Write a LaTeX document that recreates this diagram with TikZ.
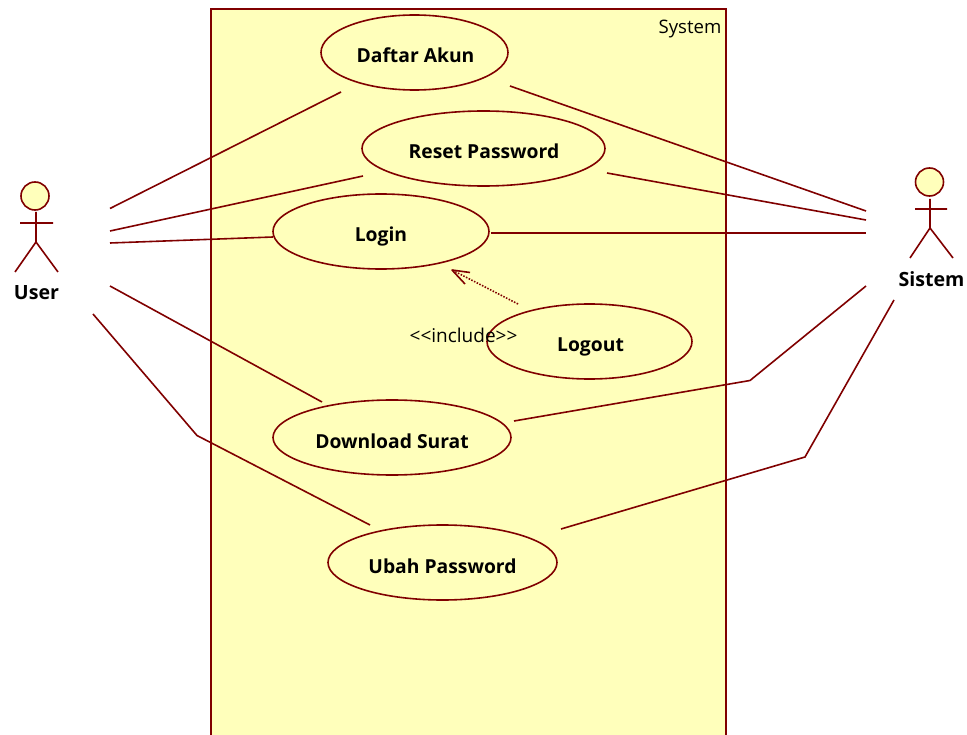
\documentclass[tikz,border=0pt]{standalone}
\usepackage{fontspec}
\setmainfont{Open Sans}
\usetikzlibrary{shapes.geometric}
\definecolor{umlline}{HTML}{800000}
\definecolor{umlfill}{HTML}{FFFFBB}
\tikzset{
  wire/.style={draw=umlline,line width=1.6pt,line join=round},
  usecase/.style={ellipse,draw=umlline,fill=umlfill,line width=1.6pt,inner sep=0pt,font=\fontsize{19.3}{19.3}\selectfont\bfseries,text=black,minimum height=75pt,text height=21pt,text depth=0pt},
  actorname/.style={font=\fontsize{19.6}{19.6}\selectfont\bfseries,text=black,inner sep=0pt},
  plain/.style={font=\fontsize{19}{19}\selectfont,text=black,inner sep=0pt},
  headball/.style={circle,draw=umlline,fill=umlfill,line width=1.6pt,minimum size=28pt,inner sep=0pt}
}
\begin{document}
\begin{tikzpicture}[x=1pt,y=-1pt]
\useasboundingbox (0,0) rectangle (967,735);
\fill[white] (0,0) rectangle (967,735);
\begin{scope}
\clip (0,0) rectangle (967,735);
\node[draw=umlline,fill=umlfill,line width=2pt,minimum width=515pt,minimum height=760pt,inner sep=0pt,anchor=north west] (sys) at (210.4,8) {};
\end{scope}
\node[plain,anchor=east,font=\fontsize{18.6}{18.6}\selectfont] (systitle) at (721.5,29) {System};
\node[usecase,minimum width=187pt] (daftar) at (414.5,52.5) {\hspace{2pt}Daftar Akun};
\node[usecase,minimum width=243pt] (reset) at (483.5,148.5) {\hspace{1pt}Reset Password};
\node[usecase,minimum width=216pt] (login) at (381,231.5) {Login};
\node[usecase,minimum width=205pt] (logout) at (589.5,341.5) {\hspace{2pt}Logout};
\node[usecase,minimum width=238pt] (download) at (392,437.5) {Download Surat};
\node[usecase,minimum width=229pt] (ubah) at (442.5,562.5) {Ubah Password};
\node[plain] (incl) at (463.5,335) {<{}<include>{}>};
% user actor
\node[headball] (uhead) at (35,196) {};
\coordinate (uneck) at (36,212); \coordinate (uhip) at (36,242);
\coordinate (uarml) at (20,223); \coordinate (uarmr) at (53,223);
\coordinate (ulegl) at (15,272); \coordinate (ulegr) at (58,272);
\draw[wire] (uneck) -- (uhip) (uarml) -- (uarmr) (ulegl) -- (uhip) -- (ulegr);
\node[actorname] (user) at (36.5,292.5) {User};
% sistem actor
\node[headball] (shead) at (929.5,182) {};
\coordinate (sneck) at (930,199); \coordinate (ship) at (930,228);
\coordinate (sarml) at (915,209); \coordinate (sarmr) at (947,209);
\coordinate (slegl) at (910,258); \coordinate (slegr) at (953,258);
\draw[wire] (sneck) -- (ship) (sarml) -- (sarmr) (slegl) -- (ship) -- (slegr);
\node[actorname] (sistem) at (931.5,279) {Sistem};
% connector ends
\coordinate (u1) at (110,208.5); \coordinate (d1) at (341,92);
\coordinate (u2) at (110,231); \coordinate (r1) at (363,176);
\coordinate (u3) at (110,243); \coordinate (l1) at (273,237);
\coordinate (u4) at (110,286); \coordinate (dl1) at (322,402);
\coordinate (u5) at (93,314); \coordinate (ub) at (197,435.5); \coordinate (ub1) at (370,525);
\coordinate (s1) at (866,211); \coordinate (d2) at (510,86);
\coordinate (s2) at (866,220); \coordinate (r2) at (607,173);
\coordinate (s3) at (866,233); \coordinate (l2) at (491,233);
\coordinate (s4) at (866,286); \coordinate (db) at (750,380.5); \coordinate (dl2) at (514,421);
\coordinate (s5) at (894,300); \coordinate (sb) at (805,457); \coordinate (ub2) at (561,529);
\draw[wire] (u1) -- (d1);
\draw[wire] (u2) -- (r1);
\draw[wire] (u3) -- (l1);
\draw[wire] (u4) -- (dl1);
\draw[wire] (u5) -- (ub) -- (ub1);
\draw[wire] (d2) -- (s1);
\draw[wire] (r2) -- (s2);
\draw[wire] (l2) -- (s3);
\draw[wire] (dl2) -- (db) -- (s4);
\draw[wire] (ub2) -- (sb) -- (s5);
% include arrow
\coordinate (inc0) at (518,304); \coordinate (inctip) at (452,270);
\coordinate (barb1) at (470,272.5); \coordinate (barb2) at (465,284);
\draw[draw=umlline,line width=1.6pt,dash pattern=on 1.5pt off 1.5pt] (inc0) -- (inctip);
\draw[wire] (barb1) -- (inctip) -- (barb2);
\end{tikzpicture}
\end{document}
